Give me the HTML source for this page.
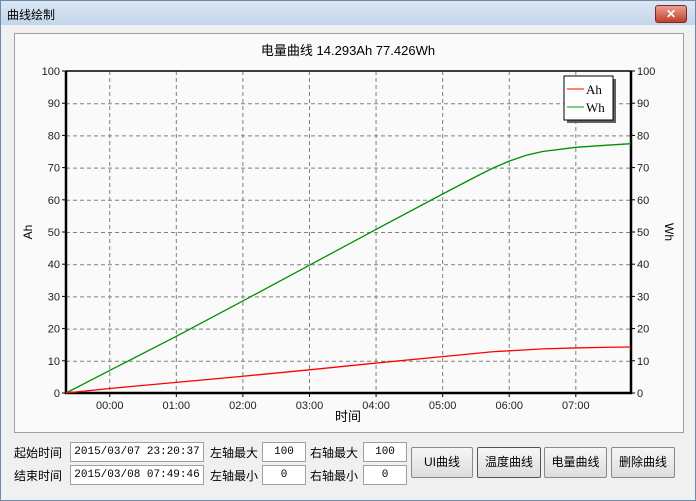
<!DOCTYPE html>
<html><head><meta charset="utf-8"><style>
body{margin:0;width:696px;height:501px;overflow:hidden;font-family:"Liberation Sans","Noto Sans CJK SC",sans-serif;background:#fff}
.win{position:absolute;left:0;top:0;width:694px;height:499px;border:1px solid #6f8aa8;background:#f0f0f0}
.tb{position:absolute;left:0;top:0;width:694px;height:24px;background:linear-gradient(#dbe7f4,#c3d5ea);}
.tt{position:absolute;left:6px;top:5px;font-size:12px;color:#000}
.cl{position:absolute;right:8px;top:4px;width:30px;height:16px;background:linear-gradient(#e8a090,#c0402c);border:1px solid #7a2a20;border-radius:3px;color:#fff;font-size:12px;text-align:center;line-height:16px;font-weight:bold}
.panel{position:absolute;left:14px;top:33px;width:668px;height:398px;background:#fafafa;border:1px solid #a0a0a0}
.lbl{position:absolute;font-size:12px;white-space:nowrap}
.inp{position:absolute;height:18px;background:#fff;border:1px solid #a0a0a0;font-size:11px;text-align:center;line-height:18px;font-family:"Liberation Mono",monospace;white-space:nowrap;overflow:hidden}
.btn{position:absolute;top:447px;height:29px;border:1px solid #8a8a8a;background:linear-gradient(#f6f6f6,#dddddd);border-radius:2px;font-size:12px;text-align:center;line-height:29px;white-space:nowrap}
</style></head><body>
<div class="win">
<div class="tb"><span class="tt">曲线绘制</span><div class="cl">✕</div></div>
</div>
<div class="panel"></div>
<svg id="ch" width="696" height="501" style="position:absolute;left:0;top:0"></svg>
<span class="lbl" style="left:14px;top:444px">起始时间</span>
<div class="inp" style="left:70px;top:442px;width:132px">2015/03/07 23:20:37</div>
<span class="lbl" style="left:14px;top:467px">结束时间</span>
<div class="inp" style="left:70px;top:465px;width:132px">2015/03/08 07:49:46</div>
<span class="lbl" style="left:210px;top:444px">左轴最大</span>
<div class="inp" style="left:262px;top:442px;width:42px">100</div>
<span class="lbl" style="left:210px;top:467px">左轴最小</span>
<div class="inp" style="left:262px;top:465px;width:42px">0</div>
<span class="lbl" style="left:310px;top:444px">右轴最大</span>
<div class="inp" style="left:363px;top:442px;width:42px">100</div>
<span class="lbl" style="left:310px;top:467px">右轴最小</span>
<div class="inp" style="left:363px;top:465px;width:42px">0</div>
<div class="btn" style="left:411px;width:60px">UI曲线</div>
<div class="btn" style="left:477px;width:62px;border-color:#555">温度曲线</div>
<div class="btn" style="left:544px;width:61px">电量曲线</div>
<div class="btn" style="left:611px;width:62px">删除曲线</div>
<script>
const timeHours=[-0.657,0,1,2,3,4,5,5.5,5.75,6,6.25,6.5,7,7.5,7.829];
const ahValues=[0,1.4,3.3,5.2,7.2,9.3,11.3,12.3,12.8,13.1,13.4,13.7,14.0,14.2,14.293];
const whValues=[0,7.0,17.6,28.6,39.7,50.8,61.8,67.2,69.8,72.0,73.8,75.0,76.3,77.0,77.426];
const xTickLabels=["00:00","01:00","02:00","03:00","04:00","05:00","06:00","07:00"];
const xTickHours=[0,1,2,3,4,5,6,7];
const yTicks=[0,10,20,30,40,50,60,70,80,90,100];
const NS="http://www.w3.org/2000/svg",s=document.getElementById('ch');
const L=66,R=631,T=71,B=393,h0=-0.657,h1=7.829;
const X=h=>L+(h-h0)/(h1-h0)*(R-L), Y=v=>B-v/100*(B-T);
function el(t,a,p){const e=document.createElementNS(NS,t);for(const k in a)e.setAttribute(k,a[k]);(p||s).appendChild(e);return e;}
let g;
yTicks.forEach(v=>{if(v>0&&v<100){g=el('line',{x1:L,x2:R,y1:Y(v)+.5,y2:Y(v)+.5,stroke:'#808080','stroke-dasharray':'4,3'});}
 let a=el('text',{x:L-6,y:Y(v)+4,'text-anchor':'end','font-size':11,fill:'#222'});a.textContent=v;
 let b=el('text',{x:R+6,y:Y(v)+4,'font-size':11,fill:'#222'});b.textContent=v;
 el('line',{x1:L-4,x2:L,y1:Y(v),y2:Y(v),stroke:'#000'});el('line',{x1:R,x2:R+4,y1:Y(v),y2:Y(v),stroke:'#000'});});
xTickHours.forEach((h,i)=>{g=el('line',{x1:X(h),x2:X(h),y1:T,y2:B,stroke:'#808080','stroke-dasharray':'4,3'});
 el('line',{x1:X(h),x2:X(h),y1:B,y2:B+4,stroke:'#000'});
 let t=el('text',{x:X(h),y:409,'text-anchor':'middle','font-size':11,fill:'#222'});t.textContent=xTickLabels[i];});
let fr=el('path',{d:`M${L} ${T}V${B}H${R}V${T}`,stroke:'#000','stroke-width':2.5,fill:'none'});
el('line',{x1:L,x2:R,y1:T,y2:T,stroke:'#000','stroke-width':1.5});
function line(vals,c,n){let p=el('polyline',{points:timeHours.map((h,i)=>X(h)+','+Y(vals[i])).join(' '),fill:'none',stroke:c,'stroke-width':1.3});}
line(whValues,'#009000','wh-line');line(ahValues,'#ff0000','ah-line');
let ti=el('text',{x:348,y:55,'text-anchor':'middle','font-size':13});ti.textContent='电量曲线 14.293Ah 77.426Wh';
let xt=el('text',{x:348,y:421,'text-anchor':'middle','font-size':13});xt.textContent='时间';
let yl=el('text',{x:0,y:0,'text-anchor':'middle','font-size':12,transform:'translate(32,232) rotate(-90)'});yl.textContent='Ah';
let yr=el('text',{x:0,y:0,'text-anchor':'middle','font-size':12,transform:'translate(665,232) rotate(90)'});yr.textContent='Wh';
let lg=el('g',{});
el('rect',{x:567,y:79,width:49,height:44,fill:'#606060'},lg);el('rect',{x:564,y:76,width:49,height:44,fill:'#fff',stroke:'#000'},lg);
el('line',{x1:567,x2:584,y1:89,y2:89,stroke:'#f00'},lg);el('line',{x1:567,x2:584,y1:107,y2:107,stroke:'#090'},lg);
let a1=el('text',{x:586,y:94,'font-size':13,'font-family':'Liberation Serif'},lg);a1.textContent='Ah';
let a2=el('text',{x:586,y:112,'font-size':13,'font-family':'Liberation Serif'},lg);a2.textContent='Wh';
</script>
</body></html>
